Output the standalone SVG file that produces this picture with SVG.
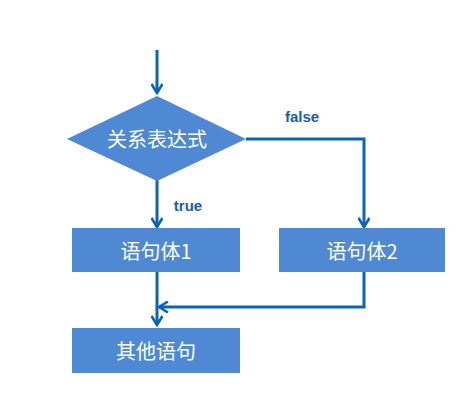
<svg xmlns="http://www.w3.org/2000/svg" width="476" height="420" viewBox="0 0 476 420">
<style>
.shape{fill:#4f89d3;}
.lbl{font-family:"Noto Sans CJK SC","Liberation Sans",sans-serif;font-size:20px;fill:#ffffff;text-anchor:middle;dominant-baseline:central;}
.edge{fill:none;stroke:#0b64b8;stroke-width:3;stroke-linejoin:miter;}
.elbl{font-family:"Liberation Sans","DejaVu Sans",sans-serif;font-size:15px;font-weight:bold;fill:#1a5ea6;text-anchor:middle;dominant-baseline:central;}
</style>
<defs>
<marker id="arr" viewBox="0 0 12 12" refX="10" refY="6" markerWidth="12" markerHeight="12" markerUnits="userSpaceOnUse" orient="auto">
<path d="M1,0.5 L10,6 L1,11.5" fill="none" stroke="#0b64b8" stroke-width="2.6"/>
</marker>
</defs>
<rect width="476" height="420" fill="#ffffff"/>
<g id="connectors">
<path class="edge" d="M157,50 V93" marker-end="url(#arr)"/>
<path class="edge" d="M157,180 V227" marker-end="url(#arr)"/>
<path class="edge" d="M246,139 H364 V227" marker-end="url(#arr)"/>
<path class="edge" d="M157,272 V325" marker-end="url(#arr)"/>
<path class="edge" d="M364,272 V307 H159" marker-end="url(#arr)"/>
<text class="elbl" x="302" y="116">false</text>
<text class="elbl" x="188" y="205">true</text>
</g>
<g id="cond">
<polygon class="shape" points="157,96 246,139 157,181 67,139"/>
<text class="lbl" x="157" y="138">关系表达式</text>
</g>
<g id="body1">
<rect class="shape" x="72" y="228" width="168" height="44"/>
<text class="lbl" x="156" y="250">语句体1</text>
</g>
<g id="body2">
<rect class="shape" x="279" y="228" width="166" height="44"/>
<text class="lbl" x="362" y="250">语句体2</text>
</g>
<g id="other">
<rect class="shape" x="72" y="328" width="168" height="45"/>
<text class="lbl" x="156" y="350">其他语句</text>
</g>
</svg>
